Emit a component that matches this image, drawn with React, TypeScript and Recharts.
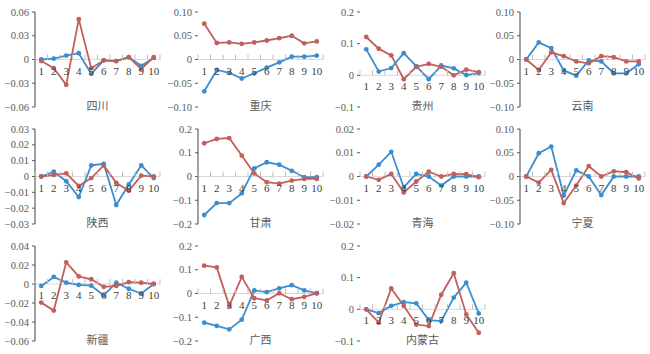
import type { ReactElement } from 'react';
import { Line, LineChart, ReferenceLine, XAxis, YAxis } from 'recharts';

const categories = ['1', '2', '3', '4', '5', '6', '7', '8', '9', '10'];

const regions = ['四川', '重庆', '贵州', '云南', '陕西', '甘肃', '青海', '宁夏', '新疆', '广西', '内蒙古'];

const blueValues = [
  [0, 0.001, 0.005, 0.008, -0.018, -0.001, -0.002, 0.003, -0.008, 0.002],
  [-0.067, -0.022, -0.028, -0.04, -0.029, -0.017, -0.006, 0.006, 0.006, 0.008],
  [0.082, 0.012, 0.023, 0.07, 0.029, -0.012, 0.031, 0.022, 0.001, 0.007],
  [0, 0.036, 0.024, -0.023, -0.034, -0.002, -0.004, -0.029, -0.029, -0.01],
  [0, 0.003, -0.003, -0.013, 0.007, 0.008, -0.018, -0.005, 0.007, -0.001],
  [-0.162, -0.112, -0.112, -0.071, 0.034, 0.06, 0.05, 0.024, -0.003, -0.003],
  [0, 0.005, 0.0104, -0.0045, 0.0011, 0, -0.0038, 0, 0, 0],
  [0, 0.049, 0.063, -0.04, 0.013, 0, -0.039, 0, 0, 0],
  [-0.002, 0.0074, 0.0014, -0.001, -0.0018, -0.012, 0.0014, -0.005, -0.01, 0],
  [-0.123, -0.136, -0.151, -0.11, 0.013, 0.006, 0.022, 0.035, 0.013, 0.001],
  [0, -0.012, 0.011, 0.023, 0.019, -0.034, -0.037, 0.037, 0.084, -0.013],
];

const redValues = [
  [-0.002, -0.011, -0.032, 0.051, -0.011, -0.001, -0.002, 0.003, -0.012, 0.003],
  [0.0755, 0.035, 0.036, 0.033, 0.036, 0.04, 0.045, 0.05, 0.034, 0.038],
  [0.121, 0.084, 0.063, -0.012, 0.027, 0.036, 0.027, 0, 0.018, 0.01],
  [0, -0.022, 0.015, 0.007, -0.004, -0.008, 0.007, 0.005, -0.004, -0.004],
  [0, 0.001, 0.002, -0.006, -0.001, 0.007, -0.004, -0.009, 0.0005, 0],
  [0.14, 0.158, 0.162, 0.088, 0.013, -0.024, -0.03, -0.017, -0.01, -0.01],
  [0, -0.0014, 0.0011, -0.0067, -0.0021, 0.002, 0, 0.0011, 0.001, -0.0003],
  [0, -0.013, 0.014, -0.056, -0.019, 0.022, 0, 0.011, 0.009, -0.004],
  [-0.0196, -0.028, 0.0228, 0.008, 0.005, -0.003, -0.002, 0.002, 0.0014, 0],
  [0.117, 0.11, -0.052, 0.07, -0.02, -0.029, 0.001, -0.024, -0.014, 0.001],
  [0, -0.042, 0.066, 0.011, -0.048, -0.053, 0.046, 0.114, -0.016, -0.074],
];

const yTicks = [
  [-0.06, -0.03, 0, 0.03, 0.06],
  [-0.1, -0.05, 0, 0.05, 0.1],
  [-0.1, 0, 0.1, 0.2],
  [-0.1, -0.05, 0, 0.05, 0.1],
  [-0.03, -0.02, -0.01, 0, 0.01, 0.02, 0.03],
  [-0.2, -0.1, 0, 0.1, 0.2],
  [-0.02, -0.01, 0, 0.01, 0.02],
  [-0.1, -0.05, 0, 0.05, 0.1],
  [-0.06, -0.04, -0.02, 0, 0.02, 0.04],
  [-0.2, -0.1, 0, 0.1, 0.2],
  [-0.1, 0, 0.1, 0.2],
];

const tickDecimals = [2, 2, 1, 2, 2, 1, 2, 2, 2, 1, 1];
const showAxisLine = [true, false, false, true, true, true, false, true, true, false, false];

const BLUE = '#3b8dd0';
const RED = '#c25f5a';
const COL_LEFT = [0, 163, 325, 485];
const ROW_TOP = [0, 117, 234];
const CHART_W = 162;
const CHART_H = 117;
const TOP = 12;
const PLOT_H = 95;
const X_AXIS_H = 10;
const AXIS_W = 35;
const PLOT_W = 125;
const BAND = PLOT_W / categories.length;
const NUM_FONT = "'Liberation Serif', 'DejaVu Serif', serif";

function formatTick(v: number, d: number): string {
  if (v === 0) return '0';
  const s = Math.abs(v).toFixed(d);
  return v < 0 ? `\u2212${s}` : s;
}

function Panel({ index }: { index: number }): ReactElement {
  const ticks = yTicks[index];
  const min = ticks[0];
  const max = ticks[ticks.length - 1];
  const zeroY = TOP + (PLOT_H * max) / (max - min);
  const data = categories.map((cat, i) => ({
    cat,
    blue: blueValues[index][i],
    red: redValues[index][i],
  }));

  // category labels sit on the zero line, Excel-style
  const renderXTick = (props: any) => {
    const { x, payload, index: i } = props;
    return (
      <g>
        <line x1={x - BAND / 2} x2={x - BAND / 2} y1={zeroY - 5} y2={zeroY} stroke="#bfbfbf" />
        {i === categories.length - 1 && (
          <line x1={x + BAND / 2} x2={x + BAND / 2} y1={zeroY - 5} y2={zeroY} stroke="#bfbfbf" />
        )}
        <text
          x={x}
          y={zeroY + 15}
          textAnchor="middle"
          fill="#404040"
          style={{ fontFamily: NUM_FONT, fontSize: '11px' }}
        >
          {payload.value}
        </text>
      </g>
    );
  };

  const renderYTick = (props: any) => {
    const { x, y, payload } = props;
    return (
      <text
        x={x}
        y={y}
        dy={3.5}
        textAnchor="end"
        fill="#595959"
        style={{ fontFamily: NUM_FONT, fontSize: '10.5px' }}
      >
        {formatTick(payload.value, tickDecimals[index])}
      </text>
    );
  };

  const col = index % 4;
  const row = Math.floor(index / 4);
  const left = COL_LEFT[col];
  const top = ROW_TOP[row];

  return (
    <div style={{ position: 'absolute', left, top, width: CHART_W, height: CHART_H }}>
      <LineChart
        width={CHART_W}
        height={CHART_H}
        data={data}
        margin={{
          top: TOP,
          right: CHART_W - AXIS_W - PLOT_W,
          bottom: CHART_H - TOP - PLOT_H - X_AXIS_H,
          left: 0,
        }}
      >
        <XAxis
          dataKey="cat"
          height={X_AXIS_H}
          interval={0}
          axisLine={false}
          tickLine={false}
          padding={{ left: BAND / 2, right: BAND / 2 }}
          tick={renderXTick}
        />
        <YAxis
          type="number"
          domain={[min, max]}
          ticks={ticks}
          interval={0}
          allowDataOverflow
          width={AXIS_W}
          tickSize={3}
          tickMargin={3}
          axisLine={showAxisLine[index] ? { stroke: '#404040' } : false}
          tickLine={{ stroke: '#595959' }}
          tick={renderYTick}
        />
        <ReferenceLine y={0} stroke="#d9d9d9" strokeWidth={1} />
        <Line
          dataKey="blue"
          stroke={BLUE}
          strokeWidth={1.8}
          dot={{ r: 2.4, fill: BLUE, stroke: BLUE, strokeWidth: 0 }}
          activeDot={false}
          isAnimationActive={false}
        />
        <Line
          dataKey="red"
          stroke={RED}
          strokeWidth={1.8}
          dot={{ r: 2.4, fill: RED, stroke: RED, strokeWidth: 0 }}
          activeDot={false}
          isAnimationActive={false}
        />
      </LineChart>
      <div
        style={{
          position: 'absolute',
          left: AXIS_W,
          top: 98,
          width: PLOT_W,
          textAlign: 'center',
          fontSize: 11,
          lineHeight: '14px',
          color: '#595959',
          fontFamily: '"Noto Sans CJK SC", sans-serif',
        }}
      >
        {regions[index]}
      </div>
    </div>
  );
}

export default function App(): ReactElement {
  return (
    <div style={{ position: 'absolute', left: 0, top: 0, width: 650, height: 354, background: '#fff' }}>
      {regions.map((_, i) => (
        <Panel key={i} index={i} />
      ))}
    </div>
  );
}
